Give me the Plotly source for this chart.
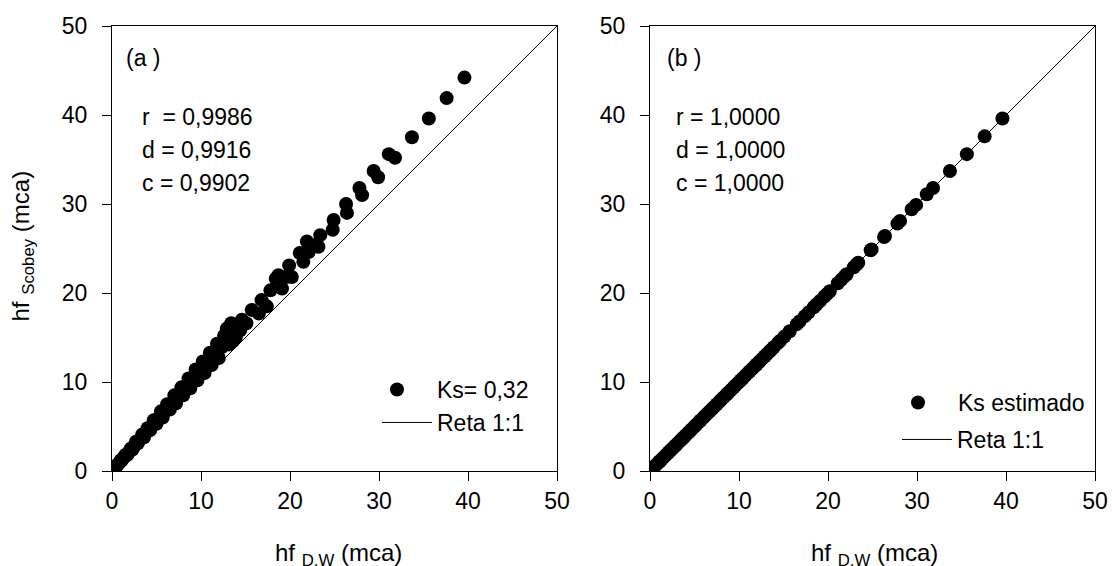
import plotly.graph_objects as go

# Head loss by Darcy-Weisbach (m.c.a.), shared by both panels
hf_dw = [39.6, 37.6, 35.6, 33.7, 31.8, 31.1, 29.9, 29.4, 28.1, 27.8,
         26.4, 26.3, 24.9, 24.8, 23.4, 23.2, 22.9, 22.1, 21.9, 21.5,
         21.1, 20.2, 19.9, 19.6, 19.1, 18.7, 18.4, 17.8, 17.4, 16.8,
         16.5, 15.7, 15.1, 14.6, 14.4, 13.9, 13.6, 13.4, 13.1, 12.9,
         12.6, 12.3, 12.0, 11.8, 11.5, 11.2, 11.0, 10.7, 10.4, 10.2,
         9.9, 9.6, 9.4, 9.1, 8.8, 8.6, 8.3, 8.0, 7.8, 7.5,
         7.2, 7.0, 6.7, 6.5, 6.2, 6.0, 5.7, 5.5, 5.2, 5.0,
         4.7, 4.5, 4.3, 4.0, 3.8, 3.6, 3.4, 3.1, 2.9, 2.7,
         2.5, 2.3, 2.1, 1.9, 1.7, 1.5, 1.3, 1.1, 1.0, 0.8,
         0.6, 0.5, 0.4, 0.3]

# Scobey with Ks = 0,32
hf_scobey_ks032 = [44.2, 41.9, 39.6, 37.5, 35.2, 35.6, 33.0, 33.7, 31.0, 31.8,
                   29.0, 30.0, 28.2, 27.1, 26.5, 25.2, 25.4, 24.6, 25.8, 23.5,
                   24.5, 21.8, 23.1, 21.8, 20.5, 22.0, 21.6, 20.3, 18.5, 19.2,
                   17.7, 18.1, 16.6, 17.0, 15.8, 15.0, 14.6, 16.6, 14.2, 16.0,
                   15.2, 13.9, 12.7, 14.3, 13.0, 11.9, 13.3, 12.1, 11.0, 12.3,
                   11.2, 10.2, 11.4, 10.3, 9.3, 10.4, 9.4, 8.5, 9.4, 8.5,
                   7.6, 8.5, 7.6, 6.9, 7.5, 6.8, 6.0, 6.7, 5.9, 5.3,
                   5.7, 5.1, 4.6, 4.8, 4.3, 3.8, 4.1, 3.5, 3.1, 3.3,
                   2.8, 2.4, 2.5, 2.1, 1.8, 1.8, 1.5, 1.2, 1.2, 0.9,
                   0.7, 0.55, 0.45, 0.35]

# Scobey with estimated Ks
hf_scobey_est = [39.6, 37.6, 35.6, 33.7, 31.8, 31.1, 29.9, 29.4, 28.1, 27.8,
                 26.4, 26.3, 24.9, 24.8, 23.4, 23.2, 22.9, 22.1, 21.9, 21.5,
                 21.1, 20.2, 19.9, 19.6, 19.1, 18.7, 18.4, 17.8, 17.4, 16.8,
                 16.5, 15.7, 15.1, 14.6, 14.4, 13.9, 13.6, 13.4, 13.1, 12.9,
                 12.6, 12.3, 12.0, 11.8, 11.5, 11.2, 11.0, 10.7, 10.4, 10.2,
                 9.9, 9.6, 9.4, 9.1, 8.8, 8.6, 8.3, 8.0, 7.8, 7.5,
                 7.2, 7.0, 6.7, 6.5, 6.2, 6.0, 5.7, 5.5, 5.2, 5.0,
                 4.7, 4.5, 4.3, 4.0, 3.8, 3.6, 3.4, 3.1, 2.9, 2.7,
                 2.5, 2.3, 2.1, 1.9, 1.7, 1.5, 1.3, 1.1, 1.0, 0.8,
                 0.6, 0.5, 0.4, 0.3]

reta = [0, 50]
tick_vals = [0, 10, 20, 30, 40, 50]

stats_a = ["r\u00a0 = 0,9986", "d = 0,9916", "c = 0,9902"]
stats_b = ["r = 1,0000", "d = 1,0000", "c = 1,0000"]

FONT = "Arial, 'Liberation Sans', sans-serif"
W, H = 1112, 566
FS = 23

fig = go.Figure()

fig.add_trace(go.Scatter(x=hf_dw, y=hf_scobey_ks032, mode="markers", name="Ks= 0,32",
                         marker=dict(color="black", size=14, line=dict(width=0)),
                         xaxis="x", yaxis="y", legend="legend"))
fig.add_trace(go.Scatter(x=reta, y=reta, mode="lines", name="Reta 1:1",
                         line=dict(color="black", width=1),
                         xaxis="x", yaxis="y", legend="legend2"))
fig.add_trace(go.Scatter(x=hf_dw, y=hf_scobey_est, mode="markers", name="Ks estimado",
                         marker=dict(color="black", size=14, line=dict(width=0)),
                         xaxis="x2", yaxis="y2", legend="legend3"))
fig.add_trace(go.Scatter(x=reta, y=reta, mode="lines", name="Reta 1:1",
                         line=dict(color="black", width=1),
                         xaxis="x2", yaxis="y2", legend="legend4"))


def px_x(p):
    return p / W


def px_y(p):
    return 1 - p / H


axis_common = dict(range=[0, 50], tickvals=tick_vals, showgrid=False, zeroline=False,
                   showline=True, mirror=True, linecolor="black", linewidth=1,
                   ticks="outside", ticklen=9, tickwidth=1, tickcolor="black",
                   automargin=False,
                   tickfont=dict(family=FONT, size=FS, color="black"))


def legend_box(x, y, iw):
    return dict(x=px_x(x), y=px_y(y), xanchor="left", yanchor="top",
                bgcolor="rgba(0,0,0,0)", borderwidth=0, itemwidth=iw,
                font=dict(family=FONT, size=FS, color="black"), tracegroupgap=0)


yt, yb = 26, 471
fig.update_layout(
    width=W, height=H, margin=dict(l=0, r=0, t=0, b=0, autoexpand=False),
    paper_bgcolor="white", plot_bgcolor="white",
    font=dict(family=FONT, color="black"),
    xaxis=dict(domain=[px_x(112), px_x(557)], anchor="y", ticklabelstandoff=0, **axis_common),
    yaxis=dict(domain=[px_y(yb), px_y(yt)], anchor="x", ticklabelstandoff=10, **axis_common),
    xaxis2=dict(domain=[px_x(650), px_x(1095)], anchor="y2", ticklabelstandoff=0, **axis_common),
    yaxis2=dict(domain=[px_y(yb), px_y(yt)], anchor="x2", ticklabelstandoff=10, **axis_common),
    legend=legend_box(357, 368, 70),
    legend2=legend_box(377, 401, 50),
    legend3=legend_box(878, 381, 70),
    legend4=legend_box(897, 418, 50),
    showlegend=True,
)

annots = []
ann_font = dict(family=FONT, size=FS, color="black")
annots.append(dict(text="(a )", x=px_x(124), y=px_y(58), xref="paper", yref="paper",
                   xanchor="left", yanchor="middle", showarrow=False, font=ann_font))
annots.append(dict(text="(b )", x=px_x(665), y=px_y(58), xref="paper", yref="paper",
                   xanchor="left", yanchor="middle", showarrow=False, font=ann_font))
for i, (ta, tb) in enumerate(zip(stats_a, stats_b)):
    yy = 117 + 33 * i
    annots.append(dict(text=ta, x=px_x(140), y=px_y(yy), xref="paper", yref="paper",
                       xanchor="left", yanchor="middle", showarrow=False, font=ann_font))
    annots.append(dict(text=tb, x=px_x(674), y=px_y(yy), xref="paper", yref="paper",
                       xanchor="left", yanchor="middle", showarrow=False, font=ann_font))

title_font = dict(family=FONT, size=24, color="black")
for cx in (338, 874):
    annots.append(dict(text="hf <sub>D.W</sub> (mca)", x=px_x(cx), y=px_y(537),
                       xref="paper", yref="paper", xanchor="center", yanchor="top",
                       showarrow=False, font=title_font))
annots.append(dict(text="hf <sub>Scobey</sub> (mca)", x=px_x(4), y=px_y(246),
                   xref="paper", yref="paper", xanchor="left", yanchor="middle",
                   textangle=-90, showarrow=False, font=title_font))

fig.update_layout(annotations=annots)

fig.write_html("out.html")
